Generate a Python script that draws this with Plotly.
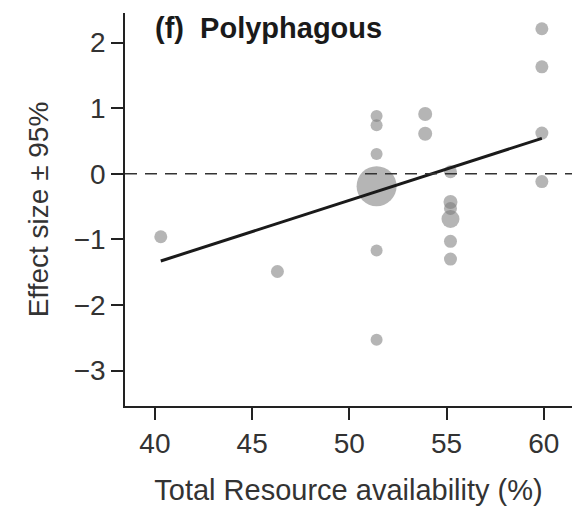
import plotly.graph_objects as go

# Data
resource = [40.3, 46.3, 51.4, 51.4, 51.4, 51.4, 51.4, 51.4, 53.9, 53.9,
            55.2, 55.2, 55.2, 55.2, 55.2, 55.2, 59.9, 59.9, 59.9, 59.9]
effect = [-0.96, -1.49, 0.88, 0.74, 0.30, -0.19, -1.17, -2.53, 0.91, 0.61,
          0.03, -0.43, -0.53, -0.69, -1.03, -1.30, 2.21, 1.63, 0.62, -0.12]
weight = [13, 13, 12, 12, 12, 40, 12, 12, 14, 14,
          13, 14, 13, 18, 13, 13, 13, 13, 13, 13]

fit_x = [40.3, 59.9]
fit_y = [-1.33, 0.54]

x_ticks = [40, 45, 50, 55, 60]
y_ticks = [-3, -2, -1, 0, 1, 2]

FONT = "Liberation Sans, Arial"

fig = go.Figure()
fig.add_trace(go.Scatter(
    x=resource, y=effect, mode="markers",
    marker=dict(size=weight, color="rgb(120,120,120)", opacity=0.55, line=dict(width=0)),
    showlegend=False, hoverinfo="skip"))
fig.add_trace(go.Scatter(
    x=fit_x, y=fit_y, mode="lines",
    line=dict(color="#1a1a1a", width=3), showlegend=False, hoverinfo="skip"))

fig.add_shape(type="line", xref="paper", yref="y", x0=0, x1=1, y0=0, y1=0,
              line=dict(color="#333333", width=1.5, dash="12px,8px"))

fig.add_annotation(x=40, y=2.22, xref="x", yref="y", text="<b>(f)  Polyphagous</b>",
                   showarrow=False, xanchor="left", yanchor="middle", xshift=-2,
                   font=dict(size=29, color="#1a1a1a", family=FONT))

fig.update_layout(
    width=572, height=507,
    margin=dict(l=125, r=0, t=13, b=101),
    plot_bgcolor="white", paper_bgcolor="white",
    font=dict(family=FONT, size=28, color="#333333"),
    xaxis=dict(range=[38.46, 61.45], tickvals=x_ticks, ticks="outside", ticklen=12,
               tickcolor="#222", tickwidth=1.5, showline=True, linecolor="#222", linewidth=1.5,
               showgrid=False, zeroline=False, automargin=False,
               tickfont=dict(size=28, color="#333333"),
               title=dict(text="Total Resource availability (%)", standoff=21,
                          font=dict(size=29, color="#333333"))),
    yaxis=dict(range=[-3.54, 2.45], tickvals=y_ticks, ticks="outside", ticklen=12,
               tickcolor="#222", tickwidth=1.5, showline=True, linecolor="#222", linewidth=1.5,
               showgrid=False, zeroline=False, automargin=False,
               tickfont=dict(size=28, color="#333333"),
               title=dict(text="Effect size ± 95%", standoff=17,
                          font=dict(size=28, color="#333333"))),
)

fig.write_html("out.html")
